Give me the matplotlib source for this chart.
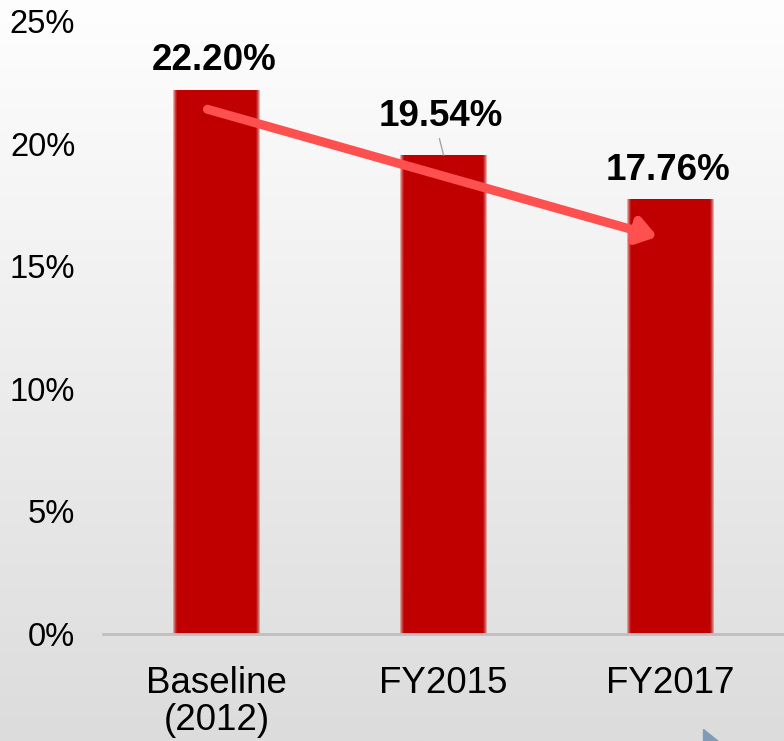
import numpy as np
import matplotlib.pyplot as plt
from matplotlib.patches import Polygon

plt.rcParams['font.family'] = ['Liberation Sans', 'DejaVu Sans']

# donnees
categories = ["Baseline\n(2012)", "FY2015", "FY2017"]
valeurs = [22.20, 19.54, 17.76]
etiquettes = ["22.20%", "19.54%", "17.76%"]
graduations = [0, 5, 10, 15, 20, 25]

fig = plt.figure(figsize=(7.84, 7.41), dpi=100)

# fond en degrade
fond = fig.add_axes([0, 0, 1, 1], zorder=-10)
degrade = np.linspace(0, 1, 256).reshape(-1, 1)
fond.imshow(degrade, aspect='auto', cmap=plt.matplotlib.colors.LinearSegmentedColormap.from_list(
    "g", ["#fefefe", "#dcdcdc"]), extent=[0, 1, 0, 1], origin='upper')
fond.axis('off')

ax = fig.add_axes([0.1314, 0.1444, 0.8686, 0.8273])
ax.patch.set_alpha(0)
x = np.arange(len(categories))

# barres avec bords adoucis
for larg, alpha in [(0.38, 0.3), (0.372, 0.35), (0.364, 0.45), (0.356, 0.6), (0.348, 1.0)]:
    ax.bar(x, valeurs, width=larg, color="#c00000", alpha=alpha, linewidth=0)

dy = [1.2, 1.55, 1.15]
for i in range(len(valeurs)):
    ax.text(x[i] - 0.01, valeurs[i] + dy[i], etiquettes[i], ha='center', va='center',
            fontsize=26.5, fontweight='bold')
# ligne de rappel
ax.plot([0.982, 1.0], [20.2, 19.54], color="#a6a6a6", lw=1)

# fleche
ax.annotate("", xy=(1.943, 16.2), xytext=(-0.04, 21.4),
            arrowprops=dict(arrowstyle="-|>,head_length=1.1,head_width=0.75",
                            color="#ff5050", lw=6.5, shrinkA=0, shrinkB=0))

ax.set_xlim(-0.5, 2.5)
ax.set_ylim(0, 25)
ax.set_yticks(graduations)
ax.set_yticklabels([str(g) + "%" for g in graduations], fontsize=23.5)
ax.set_xticks(x)
ax.set_xticklabels(categories, fontsize=26.5, linespacing=1.08)
ax.tick_params(length=0)
ax.tick_params(axis='y', pad=20)
ax.tick_params(axis='x', pad=23)
for s in ['top', 'right', 'left']:
    ax.spines[s].set_visible(False)
ax.spines['bottom'].set_color("#bfbfbf")
ax.spines['bottom'].set_linewidth(2)

# petit triangle en bas a droite
tri = Polygon([(703 / 784, 1 - 729 / 741), (703 / 784, 0), (718 / 784, 0)],
              closed=True, transform=fig.transFigure, color="#7f9bb8")
fig.patches.append(tri)

plt.savefig("out.png", dpi=100)
